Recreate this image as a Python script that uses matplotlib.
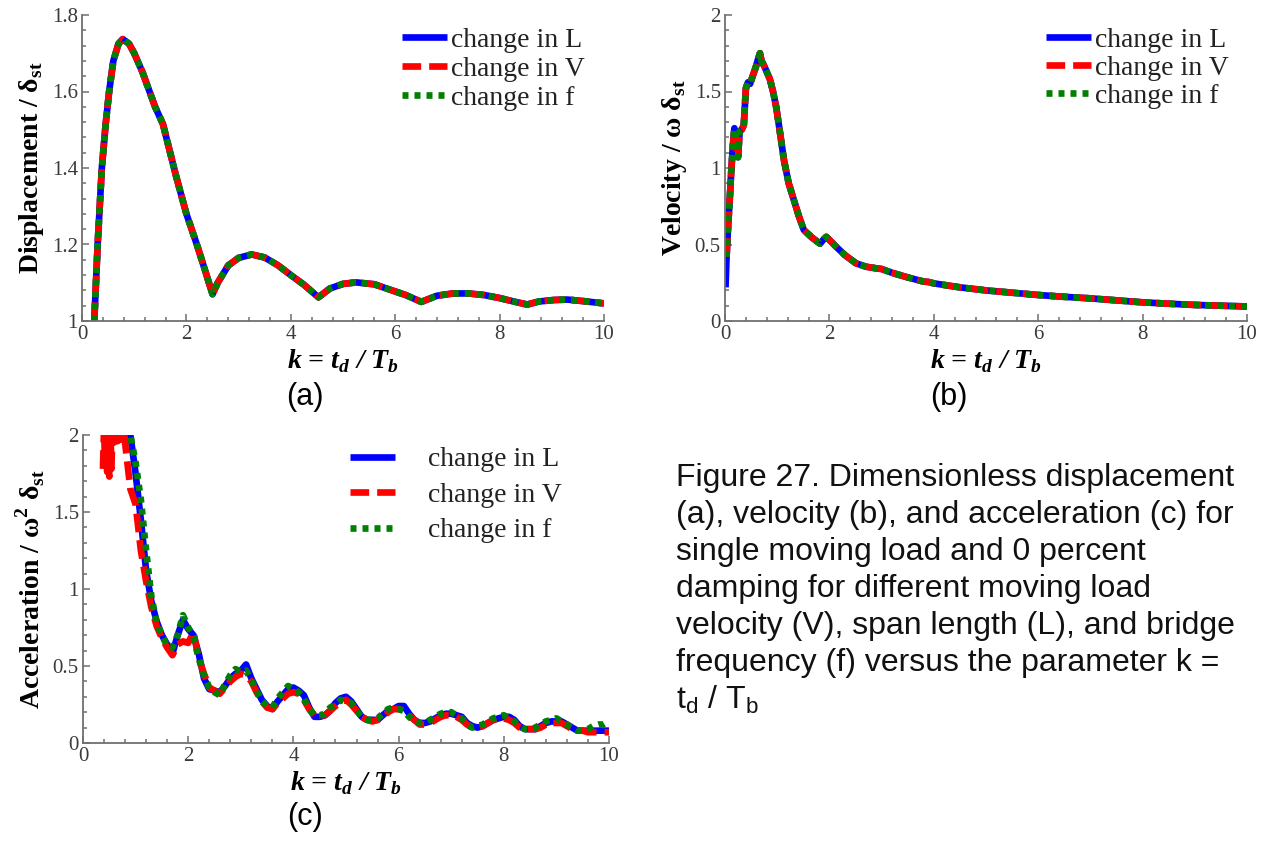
import matplotlib
matplotlib.use("Agg")
import matplotlib.pyplot as plt
import numpy as np
from matplotlib.ticker import MultipleLocator, FormatStrFormatter

plt.rcParams['font.family'] = ['Liberation Serif', 'DejaVu Serif']
plt.rcParams['mathtext.fontset'] = 'custom'
plt.rcParams['mathtext.rm'] = 'Liberation Serif'

# (a) displacement, same curve for all three parameter changes
disp_k = [0.235, 0.30, 0.38, 0.45, 0.52, 0.60, 0.70, 0.78, 0.90, 1.00, 1.16, 1.40,
          1.55, 1.80, 2.00, 2.20, 2.34, 2.50, 2.60, 2.80, 3.00, 3.25, 3.50, 3.75,
          4.00, 4.25, 4.53, 4.75, 5.00, 5.25, 5.60, 5.94, 6.20, 6.50, 6.80, 7.10,
          7.40, 7.70, 8.00, 8.30, 8.53, 8.75, 9.05, 9.30, 9.60, 10.0]
disp_v = [1.000, 1.200, 1.400, 1.510, 1.600, 1.680, 1.725, 1.737, 1.725, 1.700, 1.650, 1.560,
          1.515, 1.380, 1.280, 1.200, 1.140, 1.070, 1.100, 1.145, 1.165, 1.174, 1.166, 1.146,
          1.120, 1.095, 1.062, 1.085, 1.097, 1.101, 1.096, 1.080, 1.068, 1.050, 1.066, 1.072,
          1.072, 1.068, 1.060, 1.050, 1.043, 1.051, 1.055, 1.056, 1.052, 1.046]

# (b) velocity
vel_k = [0.03, 0.06, 0.09, 0.12, 0.15, 0.18, 0.21, 0.25, 0.28, 0.32,
         0.36, 0.40, 0.44, 0.48, 0.53, 0.59, 0.64, 0.67, 0.70, 0.76,
         0.81, 0.86, 0.92, 0.98, 1.05, 1.13, 1.22, 1.32, 1.42, 1.51,
         1.65, 1.82, 1.88, 1.94, 2.03, 2.13, 2.30, 2.51, 2.70, 2.90,
         3.00, 3.20, 3.50, 3.80, 3.90, 4.00, 4.50, 5.00, 5.50, 6.00,
         6.50, 7.00, 7.50, 8.00, 8.50, 9.00, 9.50, 10.0]
vel_v = [0.42, 0.62, 0.79, 0.98, 1.14, 1.26, 1.20, 1.07, 1.24, 1.25,
         1.28, 1.52, 1.56, 1.55, 1.60, 1.66, 1.72, 1.75, 1.70, 1.66,
         1.62, 1.58, 1.50, 1.40, 1.24, 1.05, 0.90, 0.79, 0.68, 0.595,
         0.55, 0.505, 0.53, 0.55, 0.52, 0.485, 0.43, 0.377, 0.355, 0.344,
         0.34, 0.315, 0.285, 0.258, 0.255, 0.246, 0.22, 0.20, 0.185, 0.17,
         0.158, 0.148, 0.135, 0.122, 0.113, 0.105, 0.10, 0.095]
vel_k_L = [0.01, 0.02] + vel_k
vel_L = [0.22, 0.32] + vel_v

# (c) acceleration, k from 0.8 to 10 in steps of 0.1
acc_k = np.round(np.arange(0.8, 10.01, 0.1), 1)
acc_L = [2.10, 2.00, 1.75, 1.45, 1.12, 0.92,
         0.79, 0.70, 0.64, 0.58, 0.70, 0.80, 0.74, 0.70, 0.58, 0.42,
         0.35, 0.34, 0.33, 0.37, 0.42, 0.45, 0.47, 0.51, 0.42, 0.35,
         0.28, 0.24, 0.22, 0.27, 0.31, 0.35, 0.36, 0.34, 0.31, 0.23,
         0.17, 0.17, 0.18, 0.21, 0.26, 0.29, 0.30, 0.27, 0.22, 0.17,
         0.15, 0.15, 0.15, 0.18, 0.21, 0.22, 0.24, 0.24, 0.19, 0.15,
         0.13, 0.13, 0.14, 0.16, 0.18, 0.19, 0.19, 0.18, 0.17, 0.13,
         0.11, 0.10, 0.11, 0.13, 0.15, 0.16, 0.17, 0.17, 0.15, 0.11,
         0.09, 0.09, 0.09, 0.11, 0.13, 0.14, 0.14, 0.14, 0.12, 0.10,
         0.08, 0.08, 0.08, 0.08, 0.08, 0.08, 0.08]
acc_V_early_k = [0.38, 0.40, 0.42, 0.44, 0.46, 0.48, 0.50, 0.52, 0.54, 0.56,
                 0.58, 0.60, 0.62, 0.64, 0.66, 0.68, 0.70, 0.72, 0.74, 0.76]
acc_V_early = [1.78, 2.05, 1.80, 2.05, 1.76, 2.05, 1.73, 2.05, 1.78, 2.05,
               1.95, 2.05, 1.96, 2.05, 1.96, 2.05, 1.97, 2.05, 1.97, 2.05]
acc_V = [1.95, 1.65, 1.55, 1.25, 1.05, 0.88,
         0.76, 0.68, 0.62, 0.57, 0.64, 0.66, 0.65, 0.72, 0.55, 0.45,
         0.36, 0.34, 0.32, 0.36, 0.40, 0.43, 0.45, 0.44, 0.40, 0.33,
         0.27, 0.23, 0.22, 0.26, 0.29, 0.32, 0.33, 0.32, 0.28, 0.22,
         0.18, 0.17, 0.18, 0.21, 0.24, 0.27, 0.28, 0.25, 0.21, 0.17,
         0.15, 0.14, 0.15, 0.17, 0.20, 0.22, 0.22, 0.21, 0.18, 0.15,
         0.12, 0.12, 0.13, 0.15, 0.17, 0.18, 0.18, 0.17, 0.15, 0.12,
         0.10, 0.10, 0.11, 0.13, 0.15, 0.16, 0.16, 0.15, 0.13, 0.10,
         0.09, 0.09, 0.09, 0.10, 0.12, 0.13, 0.13, 0.13, 0.11, 0.09,
         0.08, 0.08, 0.07, 0.07, 0.07, 0.07, 0.07]
acc_f = [2.05, 2.00, 1.82, 1.58, 1.25, 0.95,
         0.78, 0.70, 0.63, 0.62, 0.70, 0.83, 0.75, 0.69, 0.55, 0.44,
         0.36, 0.33, 0.31, 0.38, 0.44, 0.48, 0.46, 0.47, 0.41, 0.34,
         0.27, 0.24, 0.23, 0.29, 0.33, 0.37, 0.35, 0.33, 0.29, 0.22,
         0.18, 0.18, 0.19, 0.23, 0.25, 0.28, 0.27, 0.26, 0.21, 0.17,
         0.15, 0.15, 0.16, 0.19, 0.22, 0.23, 0.22, 0.21, 0.17, 0.14,
         0.13, 0.13, 0.15, 0.17, 0.19, 0.20, 0.20, 0.18, 0.16, 0.12,
         0.10, 0.11, 0.12, 0.14, 0.16, 0.17, 0.18, 0.16, 0.14, 0.11,
         0.09, 0.09, 0.10, 0.12, 0.14, 0.15, 0.16, 0.14, 0.12, 0.10,
         0.08, 0.08, 0.09, 0.11, 0.12, 0.12, 0.14]
acc_k_V = acc_V_early_k + list(acc_k)
acc_V_all = acc_V_early + acc_V

labels = ['change in L', 'change in V', 'change in f']
caption = ["Figure 27. Dimensionless displacement",
           "(a), velocity (b), and acceleration (c) for",
           "single moving load and 0 percent",
           "damping for different moving load",
           "velocity (V), span length (L), and bridge",
           "frequency (f) versus the parameter k =",
           r"t$_\mathregular{d}$ / T$_\mathregular{b}$"]

W, H = 1268, 842
fig = plt.figure(figsize=(W / 100, H / 100), dpi=100)


def px_axes(x0, y0, x1, y1):
    return fig.add_axes([x0 / W, 1 - y1 / H, (x1 - x0) / W, (y1 - y0) / H])


LW = 4.8
GRAY = '#6f6f6f'


def draw(ax, series, ylim, ymaj, ymin, ylabel, fmt):
    k1, v1, k2, v2, k3, v3 = series
    ax.plot(k1, v1, color='#0000ff', lw=LW, solid_capstyle='butt', label=labels[0])
    ax.plot(k2, v2, color='#ff0000', lw=LW, dashes=(2.8, 1.2), label=labels[1])
    ax.plot(k3, v3, color='#008000', lw=LW, dashes=(0.9, 0.9), label=labels[2])
    ax.set_xlim(0, 10)
    ax.set_ylim(*ylim)
    ax.xaxis.set_major_locator(MultipleLocator(2))
    ax.xaxis.set_minor_locator(MultipleLocator(0.4))
    ax.yaxis.set_major_locator(MultipleLocator(ymaj))
    ax.yaxis.set_minor_locator(MultipleLocator(ymin))
    ax.yaxis.set_major_formatter(FormatStrFormatter(fmt))
    ax.xaxis.set_major_formatter(FormatStrFormatter('%g'))
    for s in ['top', 'right']:
        ax.spines[s].set_visible(False)
    for s in ['left', 'bottom']:
        ax.spines[s].set_color(GRAY)
        ax.spines[s].set_linewidth(1.3)
    ax.tick_params(which='both', direction='in', color=GRAY, width=1.1,
                   labelsize=15, labelcolor='#3a3a3a', pad=3)
    ax.tick_params(which='major', length=5)
    ax.tick_params(which='minor', length=3)
    ax.set_ylabel(ylabel, fontsize=20, fontweight='bold', labelpad=4)
    ax.set_xlabel(r'k = t$_\mathregular{d}$ / T$_\mathregular{b}$', fontsize=20,
                  fontweight='bold', fontstyle='italic', labelpad=2)


def add_legend(ax, x, y, pad, spacing):
    ax.legend(loc='upper left', bbox_to_anchor=(x, y), frameon=False, fontsize=20,
              handlelength=1.62, handletextpad=pad, labelspacing=spacing, borderpad=0,
              borderaxespad=0, labelcolor='#222222')


ax_a = px_axes(82, 15, 604, 321)
draw(ax_a, (disp_k, disp_v, disp_k, disp_v, disp_k, disp_v), (1, 1.8), 0.2, 0.04,
     r'Displacement / δ$_\mathregular{st}$', '%g')
add_legend(ax_a, 0.613, 0.96, 0.15, 0.13)

ax_b = px_axes(725, 15, 1247, 321)
draw(ax_b, (vel_k_L, vel_L, vel_k, vel_v, vel_k, vel_v), (0, 2), 0.5, 0.1,
     r'Velocity / ω δ$_\mathregular{st}$', '%g')
add_legend(ax_b, 0.615, 0.96, 0.15, 0.1)

ax_c = px_axes(83, 435, 609, 743)
draw(ax_c, (acc_k, acc_L, acc_k_V, acc_V_all, acc_k, acc_f), (0, 2), 0.5, 0.1,
     r'Acceleration / ω$^\mathregular{2}$ δ$_\mathregular{st}$', '%g')
add_legend(ax_c, 0.508, 0.961, 1.19, 0.36)

sans = ['Liberation Sans', 'DejaVu Sans']
for txt, x, y in [('(a)', 305, 397), ('(b)', 949, 397), ('(c)', 305, 817)]:
    fig.text(x / W, 1 - y / H, txt, ha='center', va='center', fontsize=22, family=sans)

for i, line in enumerate(caption):
    fig.text(676 / W, 1 - (478 + i * 36.9) / H, line, ha='left', va='center',
             fontsize=23, family=sans, color='#111111')

fig.savefig('out.png', dpi=100)
